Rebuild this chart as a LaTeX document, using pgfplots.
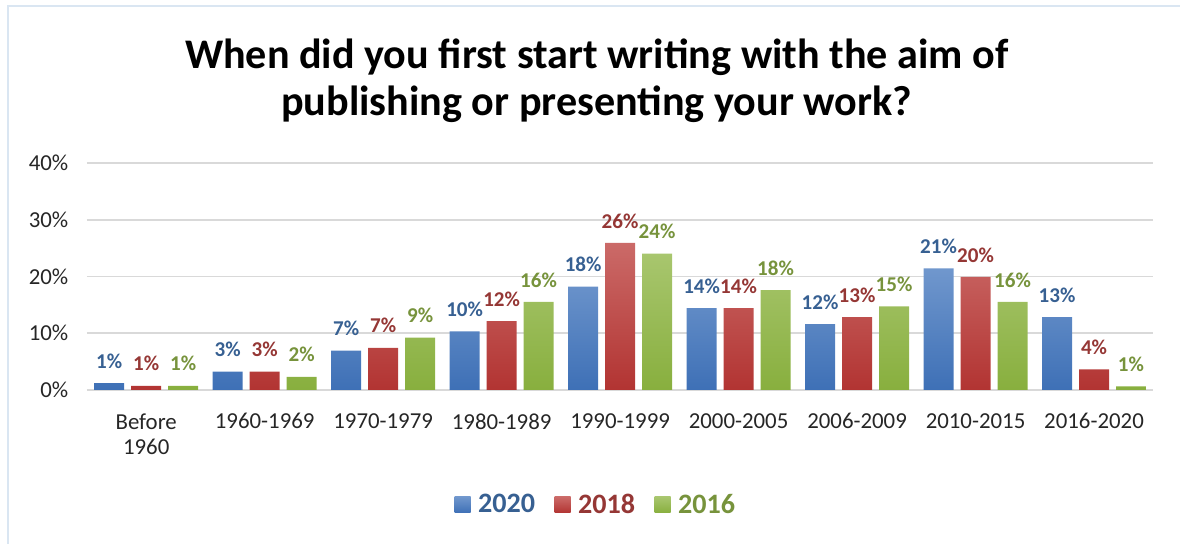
\documentclass[border=0pt]{standalone}
\usepackage{fontspec}
\setmainfont{Carlito}
\usepackage{pgfplots}
\pgfplotsset{compat=1.18}
\definecolor{bluetop}{HTML}{7097CD}
\definecolor{bluebot}{HTML}{3E70B6}
\definecolor{redtop}{HTML}{CB6A68}
\definecolor{redbot}{HTML}{B23432}
\definecolor{greentop}{HTML}{A8C66E}
\definecolor{greenbot}{HTML}{88AF3E}
\definecolor{bluelbl}{HTML}{376092}
\definecolor{redlbl}{HTML}{953735}
\definecolor{greenlbl}{HTML}{77933C}
\definecolor{gridc}{HTML}{D9D9D9}
\definecolor{framec}{HTML}{DAE6F2}

\begin{document}
\begin{tikzpicture}[x=0.02cm, y=-0.02cm]
% page frame, in pixels of the reference
\path (0,0) rectangle (1181,544);
\draw[framec, line width=0.6pt] (8,544) -- (8,6) -- (1181,6);
\coordinate (axorigin) at (87,390);

% anchor=base sits on the last line
\node[align=center, font=\bfseries\fontsize{24}{27.3}\selectfont, anchor=base]
  at (597,116) {When did you first start writing with the aim of\\publishing or presenting your work?};

\begin{axis}[
    at={(axorigin)}, anchor=south west,
    scale only axis,
    width=21.34cm, height=4.54cm,
    ybar=0.14cm, bar width=0.6cm,
    xmin=-0.5, xmax=8.5,
    ymin=0, ymax=40,
    xtick=data,
    xticklabels={Before\\1960, 1960-1969, 1970-1979, 1980-1989, 1990-1999,
                 2000-2005, 2006-2009, 2010-2015, 2016-2020},
    ytick={0,10,20,30,40},
    yticklabel={\pgfmathprintnumber{\tick}\%},
    /pgf/number format/assume math mode=true,
    ymajorgrids,
    grid style={gridc, line width=1pt},
    axis line style={draw=none},
    major tick length=0pt,
    tick label style={font=\fontsize{13}{14.5}\selectfont, text=black!85},
    xticklabel style={align=center, yshift=-0.35cm},
    yticklabel style={xshift=-0.25cm},
    nodes near coords={\pgfmathprintnumber[fixed,precision=0]{\pgfplotspointmeta}\%},
    every node near coord/.append style={font=\bfseries\fontsize{12}{14}\selectfont, yshift=0.17cm},
    legend style={at={(0.478,-0.507)}, anchor=center, draw=none,
      font=\bfseries\fontsize{16}{18}\selectfont,
      legend columns=3,
      /tikz/every odd column/.append style={column sep=0.08cm},
      /tikz/every even column/.append style={column sep=0.32cm}},
    legend image code/.code={\path[#1, draw=none] (0cm,-0.16cm) rectangle (0.32cm,0.16cm);},
]
\addplot[draw=none, top color=bluetop, bottom color=bluebot,
  every node near coord/.append style={text=bluelbl}]
  coordinates {(0,1.2) (1,3.2) (2,6.9) (3,10.3) (4,18.2) (5,14.4) (6,11.6) (7,21.4) (8,12.8)};
\addlegendentry{\textcolor{bluelbl}{2020}}
\addplot[draw=none, top color=redtop, bottom color=redbot,
  every node near coord/.append style={text=redlbl}]
  coordinates {(0,0.7) (1,3.2) (2,7.4) (3,12.1) (4,25.9) (5,14.4) (6,12.8) (7,19.9) (8,3.6)};
\addlegendentry{\textcolor{redlbl}{2018}}
\addplot[draw=none, top color=greentop, bottom color=greenbot,
  every node near coord/.append style={text=greenlbl}]
  coordinates {(0,0.7) (1,2.3) (2,9.2) (3,15.5) (4,24.0) (5,17.6) (6,14.7) (7,15.5) (8,0.6)};
\addlegendentry{\textcolor{greenlbl}{2016}}
\end{axis}
\end{tikzpicture}
\end{document}
